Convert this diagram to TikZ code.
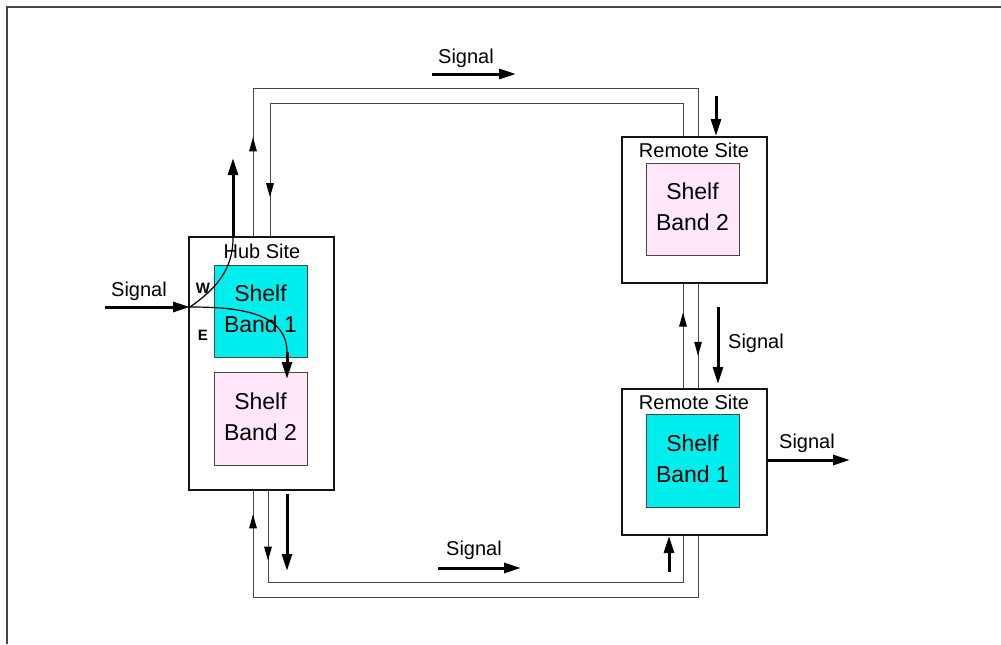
\documentclass[tikz,border=0pt]{standalone}
\usepackage{fontspec}
\setmainfont{Liberation Sans}
\usetikzlibrary{positioning,arrows.meta,decorations.markings}
\definecolor{cBandA}{RGB}{0,238,238}
\definecolor{cBandB}{RGB}{255,230,248}
\definecolor{cEdge}{RGB}{20,20,20}
\definecolor{cLine}{RGB}{70,70,70}
\tikzset{
  site/.style={
    rectangle, draw=cEdge, line width=1pt,
    minimum width=72.5pt, minimum height=73pt, inner sep=0pt,
  },
  shelf/.style={
    rectangle, draw=cLine, line width=0.5pt, align=center,
    font=\fontsize{11.5}{15.5}\selectfont, text depth=2pt,
    minimum width=46.5pt, minimum height=46.5pt, inner sep=0pt,
  },
  lab/.style={font=\fontsize{10}{12}\selectfont, inner sep=0pt},
  tag/.style={font=\fontsize{7.5}{8}\selectfont\bfseries, inner sep=0pt},
  arr/.style={-{Triangle[length=8.5pt,width=5pt]}, line width=1.5pt, draw=black},
  ring/.style={line width=0.5pt, draw=cLine},
  midarr/.style={
    decoration={markings, mark=at position #1 with {\arrow[black]{Triangle[length=7pt,width=3.8pt]}}},
    postaction={decorate},
  },
}

\begin{document}
\begin{tikzpicture}[x=0.5pt,y=-0.5pt]
\useasboundingbox (0,0) rectangle (1001,644);

% ===== page frame =====
\draw[cLine, line width=1pt] (1001,7) -- (7,7) -- (7,644);

% ===== sites and shelves =====
\node[site, minimum height=126.5pt] (hub) at (261.5,363.5) {};
\node[lab] (hubT) at (262,251) {Hub Site};
\node[shelf, fill=cBandA, minimum height=46pt] (hubA) at (260.5,311) {Shelf\\Band 1};
\node[shelf, fill=cBandB] (hubB) at (260.5,418.5) {Shelf\\Band 2};

\node[site] (rtop) at (694.5,210) {};
\node[lab] (rtopT) at (694,150) {Remote Site};
\node[shelf, fill=cBandB, minimum height=46pt] (rtopB) at (692.5,209) {Shelf\\Band 2};

\node[site] (rbot) at (694.5,462) {};
\node[lab] (rbotT) at (694,402) {Remote Site};
\node[shelf, fill=cBandA] (rbotA) at (692.5,460.5) {Shelf\\Band 1};

\node[tag] (w) at (203,288) {W};
\node[tag] (e) at (203,335) {E};

% ===== helper points =====
\coordinate (xHo) at (253,0);
\coordinate (xHi) at (270,0);
\coordinate (xHb) at (268,0);
\coordinate (xRi) at (683,0);
\coordinate (xRo) at (698,0);
\coordinate (sigIn) at (105,307);
\coordinate (join) at (190,307);
\coordinate (wUp) at (233,238);
\coordinate (wTip) at (233,158);
\coordinate (eDn) at (287,352);
\coordinate (eTip) at (287,379);
\coordinate (sigOut) at (850,460);

% ===== fibre ring =====
\draw[ring, midarr=0.154] (hub.north -| xHo) -- (253,88) -- (698,88) -- (rtop.north -| xRo);
\draw[ring, midarr=0.933] (rtop.north -| xRi) -- (683,103) -- (270,103) -- (hub.north -| xHi);
\draw[ring, midarr=0.726] (rbot.north -| xRi) -- (rtop.south -| xRi);
\draw[ring, midarr=0.69] (rtop.south -| xRo) -- (rbot.north -| xRo);
\draw[ring, midarr=0.962] (rbot.south -| xRo) -- (698,597) -- (253,597) -- (hub.south -| xHo);
\draw[ring, midarr=0.126] (hub.south -| xHb) -- (268,582) -- (683,582) -- (rbot.south -| xRi);

% ===== hub split =====
\draw[line width=0.6pt] (join) to[out=35,in=-90] (wUp);
\draw[line width=0.6pt] (join) to[out=0,in=90] (eDn);
\draw[arr] (wUp) -- (wTip);
\draw[arr] (eDn) -- (eTip);

% ===== signal arrows =====
\draw[arr] (sigIn) -- (join);
\node[lab] (sIn) at (139,291) {Signal};

\coordinate (topL) at (432,74);
\coordinate (topR) at (516,74);
\draw[arr] (topL) -- (topR);
\node[lab] (sTop) at (466,58) {Signal};

\coordinate (rIn) at (716,96);
\draw[arr] (rIn) -- (rtop.north -| rIn);

\coordinate (midA) at (718,307);
\coordinate (midB) at (718,384);
\draw[arr] (midA) -- (midB);
\node[lab] (sMid) at (756,343) {Signal};

\draw[arr] (rbot.east |- sigOut) -- (sigOut);
\node[lab] (sOut) at (807,443) {Signal};

\coordinate (rUpA) at (669,572);
\draw[arr] (rUpA) -- (rbot.south -| rUpA);

\coordinate (hDnA) at (287,494);
\coordinate (hDnB) at (287,571);
\draw[arr] (hDnA) -- (hDnB);

\coordinate (botL) at (438,568);
\coordinate (botR) at (521,568);
\draw[arr] (botL) -- (botR);
\node[lab] (sBot) at (474,550) {Signal};

\end{tikzpicture}
\end{document}
